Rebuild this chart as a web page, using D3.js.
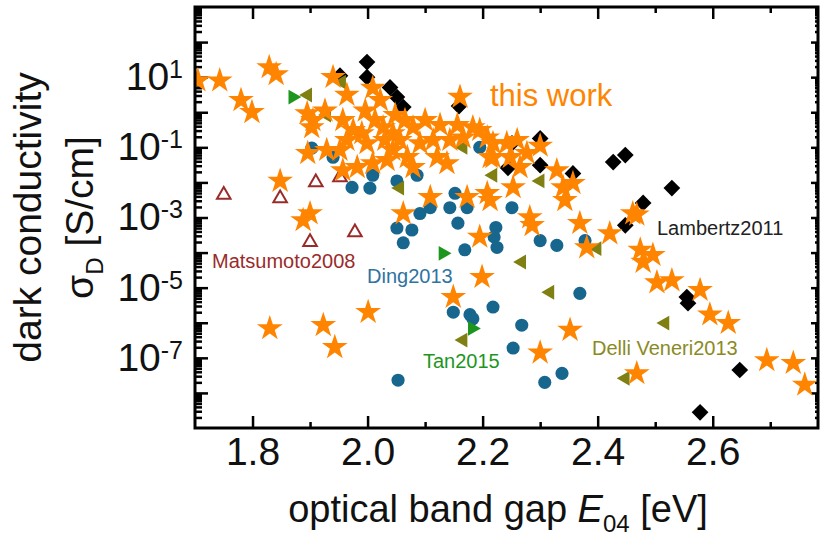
<!DOCTYPE html>
<html>
<head>
<meta charset="utf-8">
<script src="https://cdn.jsdelivr.net/npm/d3@7"></script>
<style>
body { margin: 0; background: #fff; }
text { font-family: "Liberation Sans", Arial, sans-serif; }
</style>
</head>
<body>
<div class="svg_container"></div>
<script>
// [E04 (eV), dark conductivity (S/cm)]
var thisWork = [
    [1.705, 8e0], [1.743, 8e0], [1.780, 2.2e0], [1.799, 1e0], [1.829, 1.9e1], [1.841, 1.2e1],
    [1.940, 1e1], [1.964, 3.1e0], [2.009, 4.9e0], [1.895, 9.3e-1], [1.905, 5.9e-1], [1.903, 3.7e-1],
    [1.926, 1.1e0], [1.957, 5.9e-1], [1.975, 3.1e-1], [1.990, 2.5e-1], [2.022, 2.2e0], [2.027, 3.7e-1],
    [2.044, 2.5e-1], [2.056, 1.6e-1], [2.079, 3.7e-1], [2.100, 5.9e-1], [2.091, 1.3e-1], [2.114, 1.6e-1],
    [2.121, 5.2e-2], [2.138, 3.5e-2], [2.143, 1.6e-1], [2.166, 1.9e-1], [2.183, 3.7e-1], [2.208, 1.9e-1],
    [2.218, 5.2e-2], [2.173, 3.8e-3], [2.109, 3.8e-3], [2.062, 1.3e-3], [1.900, 1.3e-3], [1.848, 1.1e-2],
    [1.896, 6.8e-2], [1.929, 8.3e-2], [1.952, 8.3e-2], [1.957, 2.2e-2], [1.982, 2.7e-2], [2.009, 3.5e-2],
    [2.034, 4.3e-2], [2.044, 8.3e-2], [2.079, 2.7e-2], [2.069, 5.2e-2], [1.999, 1.3e-1], [1.964, 1.6e-1],
    [2.195, 3.1e-1], [2.218, 1.3e-1], [2.213, 5.2e-2], [2.208, 4.9e-3], [2.242, 1.3e-1], [2.248, 5.2e-2],
    [2.260, 1.6e-1], [2.277, 6.8e-2], [2.300, 1.1e-1], [2.329, 2.2e-2], [2.340, 7.2e-3], [2.357, 9.5e-3],
    [2.253, 7.2e-3], [2.265, 2.7e-2], [2.461, 1.3e-3], [2.282, 1.0e-3], [2.213, 3.1e-3], [2.343, 3.1e-3],
    [2.195, 2.8e-4], [2.199, 2.0e-5], [2.286, 6.0e-4], [2.369, 6.9e-4], [2.381, 1.4e-4], [2.421, 3.5e-4],
    [2.468, 1.2e-3], [2.474, 1.2e-4], [2.479, 5.4e-5], [2.496, 8.5e-5], [2.503, 1.4e-5], [2.529, 1.6e-5],
    [2.578, 8.5e-6], [2.595, 1.7e-6], [2.627, 9.8e-7], [2.694, 8.5e-8], [2.740, 7.1e-8], [2.760, 1.7e-8],
    [2.352, 6.2e-7], [2.300, 1.4e-7], [2.468, 3.6e-8], [1.888, 8.3e-4], [1.830, 6.9e-7], [1.923, 8.5e-7],
    [1.943, 2.0e-7], [2.001, 2.0e-6], [2.149, 5.4e-6], [2.048, 8.3e-1], [2.065, 5.9e-1], [2.013, 5.9e-1],
    [2.030, 1.6e-1], [1.996, 1.1e0], [2.126, 4.3e-1], [2.156, 4.3e-1]
];
var lambertz2011 = [
    [1.999, 2.7e1], [1.999, 1e1], [2.039, 5.1e0], [2.051, 2.7e0], [2.062, 1.4e0], [1.952, 1.1e1],
    [2.159, 1.5e0], [2.300, 1.8e-1], [2.244, 2.6e-2], [2.300, 3.1e-2], [2.357, 1.8e-2], [2.427, 3.8e-2],
    [2.448, 6.0e-2], [2.529, 6.9e-3], [2.479, 2.6e-3], [2.448, 6.0e-4], [2.555, 5.4e-6], [2.557, 3.6e-6],
    [2.647, 4.5e-8], [2.578, 2.8e-9], [2.251, 1.3e-1]
];
var ding2013 = [
    [1.973, 7.2e-3], [2.004, 6.9e-3], [1.903, 9.5e-2], [1.940, 5.2e-2], [2.009, 1.6e-2], [2.051, 1.1e-2],
    [2.086, 1.6e-2], [2.152, 4.9e-3], [2.143, 1.9e-3], [2.173, 1.9e-3], [2.091, 1.3e-3], [2.109, 1.9e-3],
    [2.195, 1.0e-1], [2.251, 1.9e-3], [2.051, 5.0e-4], [2.077, 4.4e-4], [2.062, 1.9e-4], [2.157, 6.9e-4],
    [2.169, 1.2e-4], [2.223, 5.2e-4], [2.220, 2.8e-4], [2.225, 1.4e-4], [2.218, 2.8e-6], [2.149, 2.0e-6],
    [2.178, 1.7e-6], [2.183, 1.3e-6], [2.053, 2.3e-8], [2.300, 2.2e-4], [2.329, 1.6e-4], [2.378, 2.2e-4],
    [2.369, 6.9e-6], [2.268, 8.5e-7], [2.253, 1.9e-7], [2.308, 2.0e-8], [2.338, 3.6e-8]
];
var tan2015 = [[1.870, 2.7e0], [2.131, 9.5e-5], [2.182, 6.9e-7]];
var delliVeneri2013 = [
    [1.896, 3.1e0], [1.955, 7.2e0], [1.929, 8.3e-1], [2.056, 6.9e-3], [2.166, 1.0e-1], [2.218, 1.6e-2],
    [2.300, 1.1e-2], [2.166, 3.2e-7], [2.268, 5.4e-5], [2.317, 7.4e-6], [2.399, 1.3e-4], [2.517, 9.8e-7],
    [2.448, 2.6e-8]
];
var matsumoto2008 = [[1.750, 4.4e-3], [1.848, 3.5e-3], [1.910, 1.0e-2], [1.952, 1.4e-2], [1.900, 2.0e-4], [1.978, 3.8e-4]];

var xMajor = [1.8, 2.0, 2.2, 2.4, 2.6];
var xMinor = [1.9, 2.1, 2.3, 2.5, 2.7];
var yDecades = d3.range(-8, 3);          // exponents with a major tick
var yLabelled = [1, -1, -3, -5, -7];      // exponents that carry a label

const WIDTH = 821;
const HEIGHT = 536;
const LEFT = 195, RIGHT = 818, TOP = 7, BOTTOM = 428;

var translate = function (x, y) {
    return "translate(" + x + "," + y + ")";
};

var x = d3.scaleLinear().domain([1.7, 2.783]).range([LEFT, RIGHT]);
var y = d3.scaleLog().domain([1e-9, 1e3]).range([BOTTOM, TOP]);

var svg = d3.select('.svg_container').append('svg')
    .attr('width', WIDTH)
    .attr('height', HEIGHT);

svg.append('clipPath').attr('id', 'plot')
    .append('rect')
    .attr('x', LEFT).attr('y', TOP)
    .attr('width', RIGHT - LEFT).attr('height', BOTTOM - TOP);

var yMinor = [];
yDecades.concat([-9]).forEach(function (e) {
    for (var k = 2; k < 10; k++) yMinor.push(k * Math.pow(10, e));
});
var yMajor = yDecades.map(function (e) { return Math.pow(10, e); });

var styleAxis = function (g) {
    g.select('.domain').remove();
    g.selectAll('line').attr('stroke', '#000').attr('stroke-width', 2.5);
    g.selectAll('text').attr('fill', '#111').style('font-size', '39px');
};

// bottom
svg.append('g').attr('transform', translate(0, BOTTOM))
    .call(d3.axisBottom(x).tickValues(xMajor).tickSize(-12).tickPadding(9).tickFormat(d3.format('.1f')))
    .call(styleAxis);
svg.append('g').attr('transform', translate(0, BOTTOM))
    .call(d3.axisBottom(x).tickValues(xMinor).tickSize(-6).tickFormat(''))
    .call(styleAxis);
// top
svg.append('g').attr('transform', translate(0, TOP))
    .call(d3.axisTop(x).tickValues(xMajor).tickSize(-12).tickFormat(''))
    .call(styleAxis);
svg.append('g').attr('transform', translate(0, TOP))
    .call(d3.axisTop(x).tickValues(xMinor).tickSize(-6).tickFormat(''))
    .call(styleAxis);
// left
var leftAxis = svg.append('g').attr('transform', translate(LEFT, 0))
    .call(d3.axisLeft(y).tickValues(yMajor).tickSize(-13).tickPadding(12).tickFormat(function (d) {
        var e = Math.round(Math.log10(d));
        return yLabelled.indexOf(e) >= 0 ? String(e) : '';
    }))
    .call(styleAxis);
leftAxis.selectAll('text').each(function () {
    var t = d3.select(this);
    var e = t.text();
    if (!e) return;
    t.text(null);
    t.append('tspan').text('10');
    t.append('tspan').attr('dy', '-12').style('font-size', '25px').text(e);
});
svg.append('g').attr('transform', translate(LEFT, 0))
    .call(d3.axisLeft(y).tickValues(yMinor).tickSize(-7).tickFormat(''))
    .call(styleAxis);
// right
svg.append('g').attr('transform', translate(RIGHT, 0))
    .call(d3.axisRight(y).tickValues(yMajor).tickSize(-7).tickFormat(''))
    .call(styleAxis);
svg.append('g').attr('transform', translate(RIGHT, 0))
    .call(d3.axisRight(y).tickValues(yMinor).tickSize(-3).tickFormat(''))
    .call(styleAxis);

// data
var plot = svg.append('g').attr('clip-path', 'url(#plot)');

var drawSeries = function (data, shape, size, rotate, fill, stroke) {
    plot.append('g').selectAll('path')
        .data(data).enter().append('path')
        .attr('d', d3.symbol().type(shape).size(size))
        .attr('transform', function (d) {
            return translate(x(d[0]), y(d[1])) + ' rotate(' + rotate + ')';
        })
        .attr('fill', fill)
        .attr('stroke', stroke || 'none')
        .attr('stroke-width', 2);
};

drawSeries(matsumoto2008, d3.symbolTriangle, 80, 0, 'none', '#9a2b2b');
drawSeries(ding2013, d3.symbolCircle, 135, 0, '#16668e');
drawSeries(lambertz2011, d3.symbolSquare, 140, 45, '#000');
drawSeries(tan2015, d3.symbolTriangle, 95, 90, '#1e961e');
drawSeries(delliVeneri2013, d3.symbolTriangle, 95, -90, '#7f7f12');
drawSeries(thisWork, d3.symbolStar, 205, 0, '#ff8400');

// frame
svg.append('rect')
    .attr('x', LEFT).attr('y', TOP)
    .attr('width', RIGHT - LEFT).attr('height', BOTTOM - TOP)
    .attr('fill', 'none').attr('stroke', '#000').attr('stroke-width', 3);

// labels on the plot
var labels = [
    {t: 'Lambertz2011', x: 657, y: 235, c: '#222', s: 20},
    {t: 'Matsumoto2008', x: 212, y: 268, c: '#9a2b2b', s: 20},
    {t: 'Ding2013', x: 367, y: 283, c: '#2f73a0', s: 20},
    {t: 'Tan2015', x: 423, y: 368, c: '#1e961e', s: 20},
    {t: 'Delli Veneri2013', x: 592, y: 355, c: '#8a8a24', s: 20},
    {t: 'this work', x: 490, y: 106, c: '#ff8400', s: 31}
];
svg.append('g').selectAll('text').data(labels).enter().append('text')
    .attr('x', function (d) { return d.x; })
    .attr('y', function (d) { return d.y; })
    .attr('fill', function (d) { return d.c; })
    .style('font-size', function (d) { return d.s + 'px'; })
    .text(function (d) { return d.t; });
svg.append('path')
    .attr('d', d3.symbol().type(d3.symbolStar).size(205))
    .attr('transform', translate(460, 97))
    .attr('fill', '#ff8400');

// axis titles
var xTitle = svg.append('text')
    .attr('x', 498).attr('y', 522)
    .attr('text-anchor', 'middle').attr('fill', '#111')
    .style('font-size', '38px');
xTitle.append('tspan').text('optical band gap ');
xTitle.append('tspan').style('font-style', 'italic').text('E');
xTitle.append('tspan').attr('dy', 10).style('font-size', '24px').text('04');
xTitle.append('tspan').attr('dy', -10).text(' [eV]');

var cy = (TOP + BOTTOM) / 2;
svg.append('text')
    .attr('transform', translate(41, cy) + ' rotate(-90)')
    .attr('text-anchor', 'middle').attr('fill', '#111')
    .style('font-size', '39px')
    .text('dark conductivity');
var yTitle = svg.append('text')
    .attr('transform', translate(93, cy) + ' rotate(-90)')
    .attr('text-anchor', 'middle').attr('fill', '#111')
    .style('font-size', '39px');
yTitle.append('tspan').text('σ');
yTitle.append('tspan').attr('dy', 10).style('font-size', '24px').text('D');
yTitle.append('tspan').attr('dy', -10).text(' [S/cm]');
</script>
</body>
</html>
